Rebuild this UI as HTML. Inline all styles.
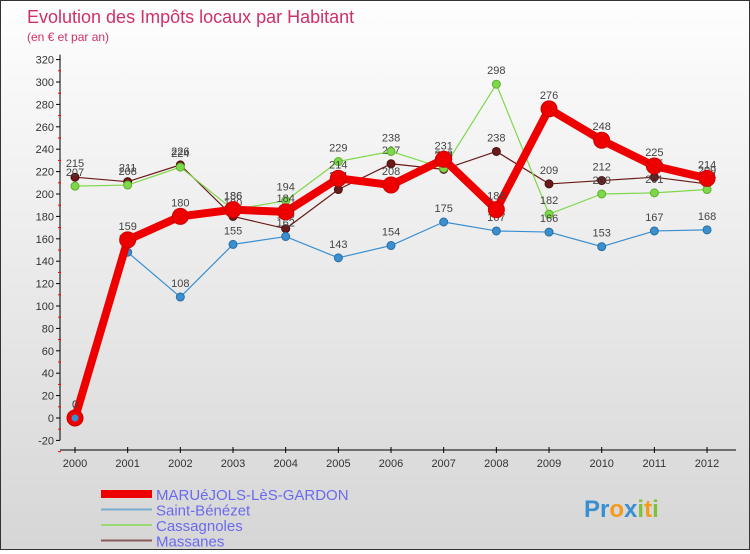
<!DOCTYPE html>
<html><head><meta charset="utf-8"><style>
body{margin:0;width:750px;height:550px;overflow:hidden;font-family:"Liberation Sans",sans-serif}
#wrap{position:relative;width:748px;height:548px;border:1px solid #333;background:linear-gradient(#fefefe,#d6d6d6)}
</style></head><body>
<div id="wrap">
<svg id="c" width="748" height="548">
<text x="26" y="22" font-size="18" fill="#d0306a">Evolution des Impôts locaux par Habitant</text>
<text x="26" y="40" font-size="12" fill="#d0306a">(en € et par an)</text>
</svg>
</div>
<script>
const years=["2000","2001","2002","2003","2004","2005","2006","2007","2008","2009","2010","2011","2012"];
const marue=[0,159,180,186,184,214,208,231,186,276,248,225,214];
const saint=[0,148,108,155,162,143,154,175,167,166,153,167,168];
const cassa=[207,208,224,186,194,229,238,223,298,182,200,201,204];
const massa=[215,211,226,180,169,204,227,222,238,209,212,215,209];
const yTicks=[-20,0,20,40,60,80,100,120,140,160,180,200,220,240,260,280,300,320];
const svg=document.getElementById('c');const NS='http://www.w3.org/2000/svg';
const X=i=>74+i*52.67;const Y=v=>417-v*1.12;
function el(t,a,p){const e=document.createElementNS(NS,t);for(const k in a)e.setAttribute(k,a[k]);(p||svg).appendChild(e);return e;}
// axes
const ax=el('line',{x1:59,y1:Y(320)-5,x2:59,y2:Y(-20),stroke:'#000'});


const xx=el('line',{x1:59,y1:449,x2:735,y2:449,stroke:'#000'});


yTicks.forEach(v=>{el('line',{x1:55,y1:Y(v),x2:59,y2:Y(v),stroke:'#000'});
 el('line',{x1:57,y1:Y(v)+11.2,x2:60,y2:Y(v)+11.2,stroke:'#f00'});
 const t=el('text',{x:53,y:Y(v)+4,'font-size':11,fill:'#333','text-anchor':'end'});t.textContent=v;
 
 });
years.forEach((y,i)=>{el('line',{x1:X(i),y1:446,x2:X(i),y2:452,stroke:'#000'});
 const t=el('text',{x:X(i),y:466,'font-size':11,fill:'#333','text-anchor':'middle'});t.textContent=y;
 
 });
function series(d,col,w,r,name,stroke){
 const g=el('g',{});
 
 
 el('polyline',{points:d.map((v,i)=>X(i)+','+Y(v)).join(' '),fill:'none',stroke:col,'stroke-width':w,'stroke-linejoin':'round'},g);
 d.forEach((v,i)=>{const c=el('circle',{cx:X(i),cy:Y(v),r:r,fill:col,stroke:stroke,'stroke-width':1},g);
  
  
  const t=el('text',{x:X(i),y:Y(v)-10,'font-size':11,fill:'#444','text-anchor':'middle'},g);t.textContent=v;
  
  });
}
series(massa,'#6b1a1a',1.2,4,'massanes-series','#4a0f0f');
series(cassa,'#7fd84a',1.2,4,'cassagnoles-series','#5bb02a');
series(saint,'#3a8fd0',1.2,4,'saint-benezet-series','#2a6fa0');
series(marue,'#ee0000',8,8,'maruejols-series','#cc0000');
el('circle',{cx:X(0),cy:Y(0),r:3.5,fill:'#3a8fd0'});
// legend
const leg=[['MARUéJOLS-LèS-GARDON','#ee0000',8],['Saint-Bénézet','#7aaed0',2],['Cassagnoles','#9ad870',2],['Massanes','#8a5a5a',2]];
leg.forEach((l,i)=>{const y=493+i*15.5;const g=el('g',{});
 
 
 el('line',{x1:100,y1:y,x2:151,y2:y,stroke:l[1],'stroke-width':l[2]},g);
 const t=el('text',{x:155,y:y+6,'font-size':15,fill:'#6a6aee'},g);t.textContent=l[0];});
const p=el('text',{x:583,y:516,'font-size':24,'font-weight':'bold',fill:'#f59a1a'});


p.innerHTML='<tspan fill="#3a8fd0">Pr</tspan><tspan fill="#f59a1a">o</tspan><tspan fill="#3a8fd0">x</tspan><tspan fill="#7fc23a">i</tspan><tspan fill="#f59a1a">t</tspan><tspan fill="#7fc23a">i</tspan>';
</script>
</body></html>
